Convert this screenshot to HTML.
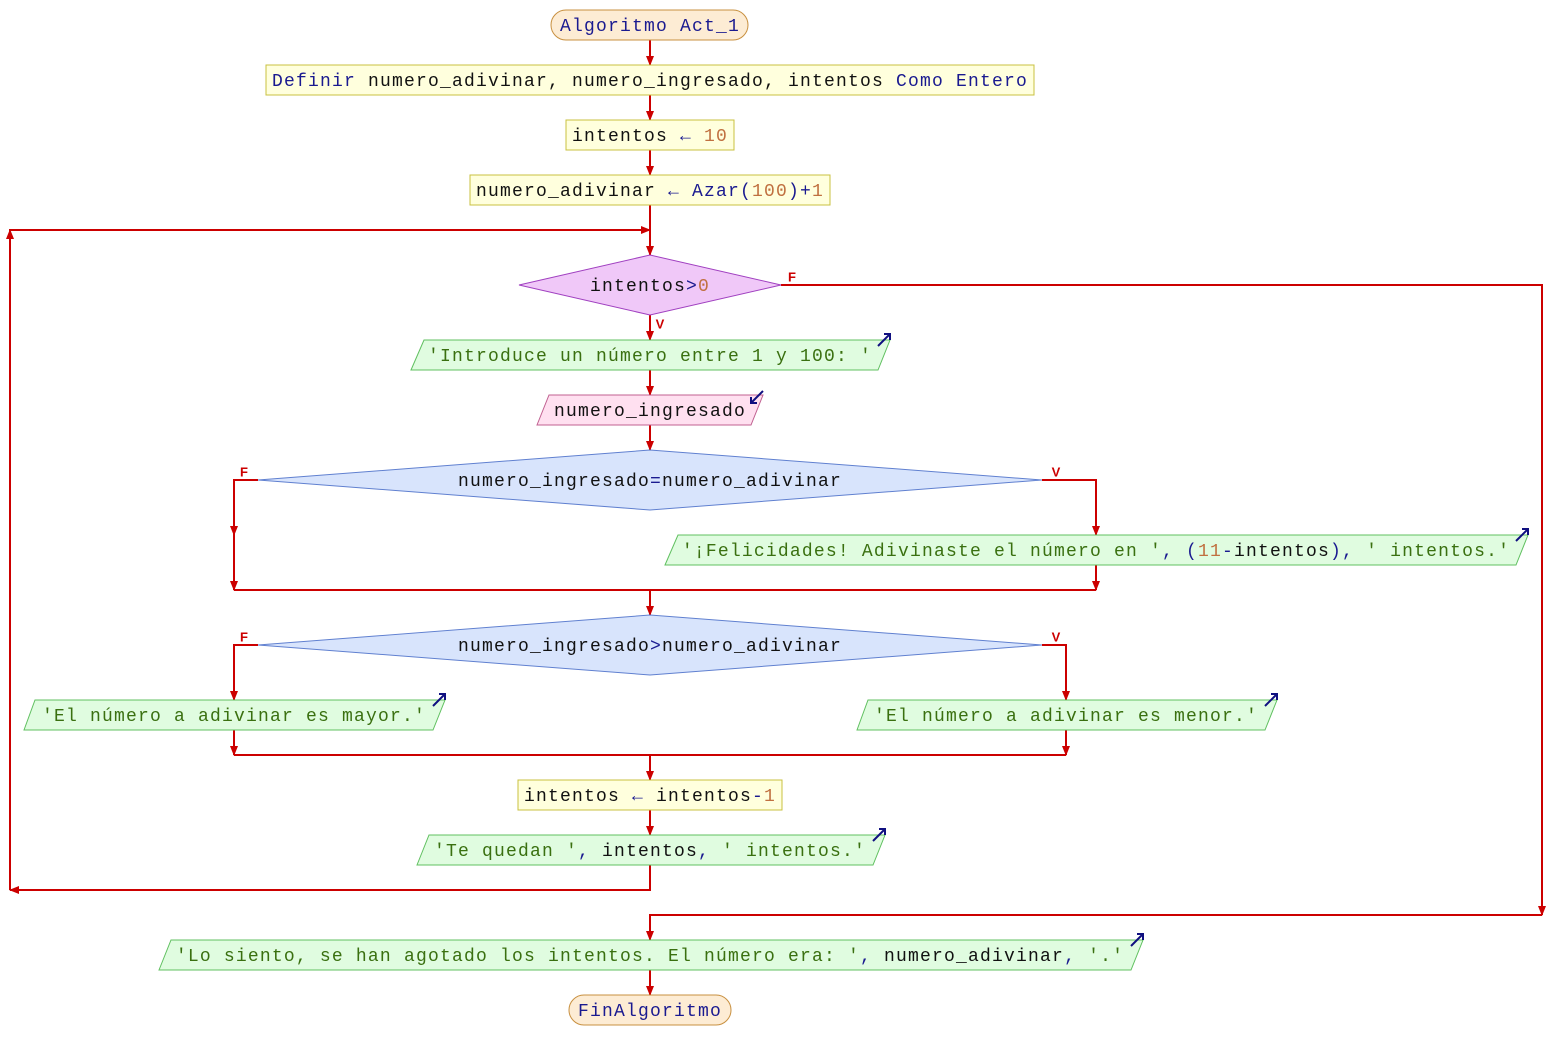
<!DOCTYPE html>
<html><head><meta charset="utf-8"><style>
html,body{margin:0;padding:0;background:#fff}
svg{display:block}
text{font-family:"Liberation Mono",monospace;font-size:18px;letter-spacing:1.2px;dominant-baseline:central;text-anchor:middle;transform:translateY(2px)}
.k{fill:#1a1a90}.v{fill:#111}.n{fill:#c07040}.s{fill:#3a7010}
.lbl{font-family:"Liberation Sans",sans-serif;font-size:13px;font-weight:bold;fill:#cc0000;letter-spacing:0}
</style></head><body>
<svg width="1552" height="1060" viewBox="0 0 1552 1060" xmlns="http://www.w3.org/2000/svg">
<defs>
<marker id="a" markerWidth="10" markerHeight="8" refX="9" refY="4" orient="auto" markerUnits="userSpaceOnUse"><path d="M0,0 L10,4 L0,8 z" fill="#cc0000"/></marker>
<g id="out"><path d="M-6,6 L6,-6 M0,-6 L6,-6 L6,0" stroke="#101080" stroke-width="2" fill="none"/></g>
<g id="in"><path d="M6,-6 L-6,6 M-6,0 L-6,6 L0,6" stroke="#101080" stroke-width="2" fill="none"/></g>
</defs>
<g stroke="#cc0000" stroke-width="2" fill="none">
<line x1="650" y1="40" x2="650" y2="65" marker-end="url(#a)"/>
<line x1="650" y1="95" x2="650" y2="120" marker-end="url(#a)"/>
<line x1="650" y1="150" x2="650" y2="175" marker-end="url(#a)"/>
<line x1="650" y1="205" x2="650" y2="255" marker-end="url(#a)"/>
<polyline points="10,232 10,230 650,230" marker-end="url(#a)"/>
<line x1="650" y1="315" x2="650" y2="340" marker-end="url(#a)"/>
<line x1="650" y1="370" x2="650" y2="395" marker-end="url(#a)"/>
<line x1="650" y1="425" x2="650" y2="450" marker-end="url(#a)"/>
<polyline points="781,285 1542,285 1542,915" marker-end="url(#a)"/>
<polyline points="1542,915 650,915 650,940" marker-end="url(#a)"/>
<polyline points="258,480 234,480 234,535" marker-end="url(#a)"/>
<line x1="234" y1="535" x2="234" y2="590" marker-end="url(#a)"/>
<polyline points="1042,480 1096,480 1096,535" marker-end="url(#a)"/>
<line x1="1096" y1="565" x2="1096" y2="590" marker-end="url(#a)"/>
<line x1="234" y1="590" x2="1096" y2="590"/>
<line x1="650" y1="590" x2="650" y2="615" marker-end="url(#a)"/>
<polyline points="258,645 234,645 234,700" marker-end="url(#a)"/>
<polyline points="1042,645 1066,645 1066,700" marker-end="url(#a)"/>
<line x1="234" y1="730" x2="234" y2="755" marker-end="url(#a)"/>
<line x1="1066" y1="730" x2="1066" y2="755" marker-end="url(#a)"/>
<line x1="234" y1="755" x2="1066" y2="755"/>
<line x1="650" y1="755" x2="650" y2="780" marker-end="url(#a)"/>
<line x1="650" y1="810" x2="650" y2="835" marker-end="url(#a)"/>
<polyline points="650,865 650,890 10,890" marker-end="url(#a)"/>
<line x1="10" y1="890" x2="10" y2="230" marker-end="url(#a)"/>
<line x1="650" y1="970" x2="650" y2="995" marker-end="url(#a)"/>
</g>
<text class="lbl" x="792" y="275">F</text>
<text class="lbl" x="660" y="322">V</text>
<text class="lbl" x="244" y="470">F</text>
<text class="lbl" x="1056" y="470">V</text>
<text class="lbl" x="244" y="635">F</text>
<text class="lbl" x="1056" y="635">V</text>

<rect x="551" y="10" width="197" height="30" rx="15" fill="#fdecd4" stroke="#c89040"/>
<text x="650" y="25" class="k">Algoritmo Act_1</text>

<rect x="266" y="65" width="768" height="30" fill="#ffffdd" stroke="#c8c040"/>
<text x="650" y="80"><tspan class="k">Definir </tspan><tspan class="v">numero_adivinar, numero_ingresado, intentos </tspan><tspan class="k">Como Entero</tspan></text>

<rect x="566" y="120" width="168" height="30" fill="#ffffdd" stroke="#c8c040"/>
<text x="650" y="135"><tspan class="v">intentos </tspan><tspan class="k">← </tspan><tspan class="n">10</tspan></text>

<rect x="470" y="175" width="360" height="30" fill="#ffffdd" stroke="#c8c040"/>
<text x="650" y="190"><tspan class="v">numero_adivinar </tspan><tspan class="k">← Azar(</tspan><tspan class="n">100</tspan><tspan class="k">)+</tspan><tspan class="n">1</tspan></text>

<polygon points="519,285 650,255 781,285 650,315" fill="#f0c8f8" stroke="#a040c0"/>
<text x="650" y="285"><tspan class="v">intentos</tspan><tspan class="k">&gt;</tspan><tspan class="n">0</tspan></text>

<polygon points="411,370 424,340 890,340 878,370" fill="#e0fce0" stroke="#60c060"/>
<use href="#out" x="884" y="340"/>
<text x="650" y="355" class="s">'Introduce un número entre 1 y 100: '</text>

<polygon points="537,425 549,395 763,395 751,425" fill="#ffe0f0" stroke="#c06090"/>
<use href="#in" x="757" y="397"/>
<text x="650" y="410" class="v">numero_ingresado</text>

<polygon points="258,480 650,450 1042,480 650,510" fill="#d8e4fc" stroke="#6080d0"/>
<text x="650" y="480"><tspan class="v">numero_ingresado</tspan><tspan class="k">=</tspan><tspan class="v">numero_adivinar</tspan></text>

<polygon points="665,565 678,535 1528,535 1516,565" fill="#e0fce0" stroke="#60c060"/>
<use href="#out" x="1522" y="535"/>
<text x="1096" y="550"><tspan class="s">'¡Felicidades! Adivinaste el número en '</tspan><tspan class="k">, (</tspan><tspan class="n">11</tspan><tspan class="k">-</tspan><tspan class="v">intentos</tspan><tspan class="k">), </tspan><tspan class="s">' intentos.'</tspan></text>

<polygon points="258,645 650,615 1042,645 650,675" fill="#d8e4fc" stroke="#6080d0"/>
<text x="650" y="645"><tspan class="v">numero_ingresado</tspan><tspan class="k">&gt;</tspan><tspan class="v">numero_adivinar</tspan></text>

<polygon points="24,730 35,700 445,700 433,730" fill="#e0fce0" stroke="#60c060"/>
<use href="#out" x="439" y="700"/>
<text x="234" y="715" class="s">'El número a adivinar es mayor.'</text>

<polygon points="857,730 868,700 1277,700 1265,730" fill="#e0fce0" stroke="#60c060"/>
<use href="#out" x="1271" y="700"/>
<text x="1066" y="715" class="s">'El número a adivinar es menor.'</text>

<rect x="518" y="780" width="264" height="30" fill="#ffffdd" stroke="#c8c040"/>
<text x="650" y="795"><tspan class="v">intentos </tspan><tspan class="k">← </tspan><tspan class="v">intentos</tspan><tspan class="k">-</tspan><tspan class="n">1</tspan></text>

<polygon points="417,865 429,835 885,835 873,865" fill="#e0fce0" stroke="#60c060"/>
<use href="#out" x="879" y="835"/>
<text x="650" y="850"><tspan class="s">'Te quedan '</tspan><tspan class="k">, </tspan><tspan class="v">intentos</tspan><tspan class="k">, </tspan><tspan class="s">' intentos.'</tspan></text>

<polygon points="159,970 171,940 1143,940 1131,970" fill="#e0fce0" stroke="#60c060"/>
<use href="#out" x="1137" y="940"/>
<text x="650" y="955"><tspan class="s">'Lo siento, se han agotado los intentos. El número era: '</tspan><tspan class="k">, </tspan><tspan class="v">numero_adivinar</tspan><tspan class="k">, </tspan><tspan class="s">'.'</tspan></text>

<rect x="569" y="995" width="162" height="30" rx="15" fill="#fdecd4" stroke="#c89040"/>
<text x="650" y="1010" class="k">FinAlgoritmo</text>
</svg>
</body></html>
